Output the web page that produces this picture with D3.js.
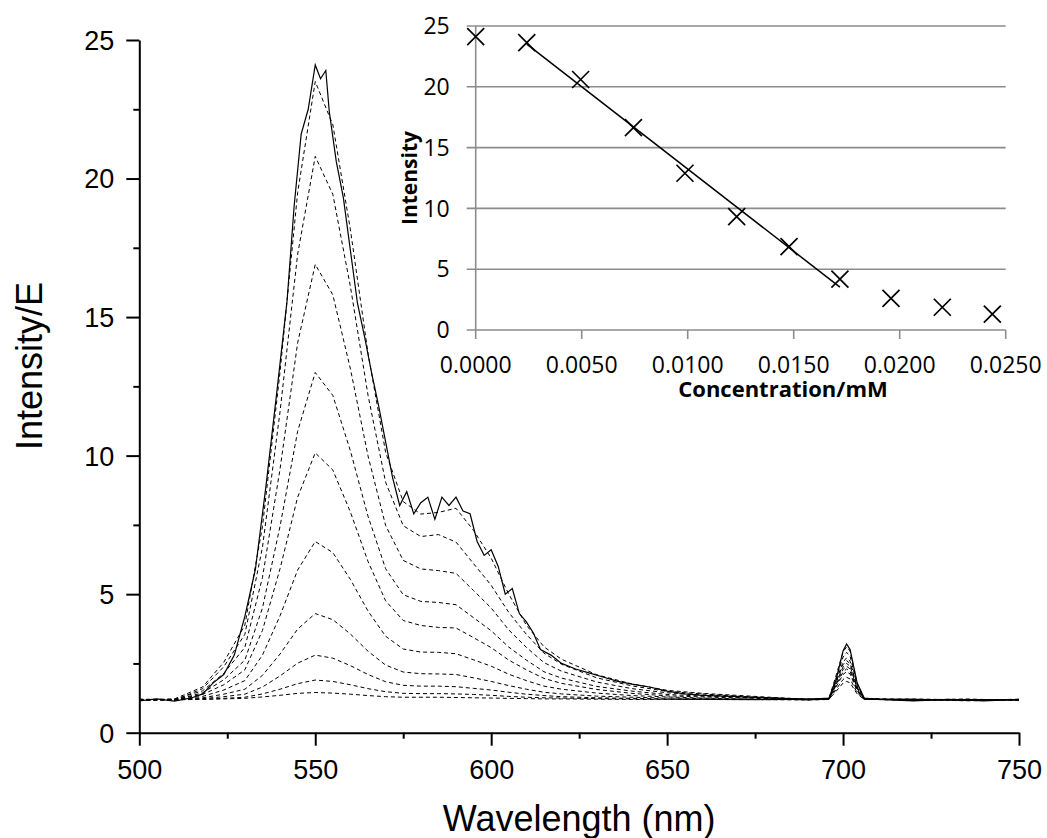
<!DOCTYPE html>
<html>
<head>
<meta charset="utf-8">
<script src="https://cdn.jsdelivr.net/npm/d3@7"></script>
<style>
	body { margin: 0; background: #fff; }
	svg { display: block; }
</style>
</head>
<body>
<svg width="1047" height="838"></svg>
<script>
// wavelength grid for the solid (highest) spectrum
var wlSolid = [500, 505, 510, 515, 518, 521, 524, 527, 530, 533, 536, 539, 542, 544, 546, 548, 550, 551.5, 553, 554,
	556, 558, 560, 562, 564, 566, 568, 570, 572, 574, 576, 578, 580, 582, 584, 586, 588, 590, 592, 594,
	596, 598, 600, 602, 604, 606, 608, 610, 612, 614, 617, 620, 624, 628, 632, 636, 640, 645, 650, 655,
	660, 670, 680, 690, 696, 698, 700, 701, 702, 704, 706, 710, 720, 730, 740, 750];
var solidSpectrum = [1.15, 1.22, 1.14, 1.26, 1.4, 1.8, 2.1, 2.8, 4.2, 5.9, 8.9, 12.2, 15.6, 19.0, 21.6, 22.5, 24.1, 23.6, 23.9, 22.4,
	20.6, 19.3, 17.4, 15.5, 14.3, 13.0, 11.8, 10.5, 9.2, 8.2, 8.7, 7.9, 8.3, 8.5, 7.7, 8.5, 8.2, 8.5, 8.0, 7.9,
	6.9, 6.4, 6.6, 6.0, 5.0, 5.2, 4.3, 4.0, 3.6, 3.0, 2.8, 2.5, 2.3, 2.15, 2.0, 1.85, 1.75, 1.65, 1.5, 1.4,
	1.35, 1.3, 1.25, 1.2, 1.25, 1.9, 2.95, 3.2, 3.0, 1.8, 1.25, 1.2, 1.15, 1.2, 1.15, 1.2];

// wavelength grid for the dashed spectra
var wlDashed = [500, 510, 518, 524, 530, 535, 540, 545, 550, 555, 560, 565, 570, 575, 580, 585, 590, 595, 600, 605,
	610, 615, 620, 630, 640, 650, 660, 675, 690, 696, 698, 700, 701, 702, 704, 706, 720, 735, 750];
var dashed1 = [1.18, 1.22, 1.65, 2.54, 3.88, 7.44, 13.02, 19.49, 23.5, 21.94, 18.15, 13.69, 10.12, 8.34, 7.89, 7.95, 8.1, 7.3, 6.3, 5.0,
	3.88, 3.1, 2.65, 2.09, 1.76, 1.53, 1.42, 1.31, 1.2, 1.24, 2.06, 2.91, 3.1, 2.95, 1.77, 1.24, 1.17, 1.21, 1.16];
var dashed2 = [1.2, 1.17, 1.59, 2.38, 3.55, 6.69, 11.59, 17.27, 20.8, 19.43, 16.1, 12.18, 9.04, 7.47, 7.08, 7.15, 6.88, 6.1, 5.32, 4.34,
	3.55, 2.87, 2.47, 1.98, 1.69, 1.49, 1.4, 1.28, 1.22, 1.22, 1.97, 2.73, 2.9, 2.76, 1.71, 1.23, 1.2, 1.15, 1.19];
var dashed3 = [1.16, 1.21, 1.51, 2.14, 3.08, 5.6, 9.52, 14.07, 16.9, 15.8, 13.13, 9.99, 7.48, 6.22, 5.91, 5.85, 5.75, 5.13, 4.5, 3.71,
	3.08, 2.53, 2.22, 1.83, 1.59, 1.44, 1.36, 1.27, 1.19, 1.23, 1.88, 2.55, 2.7, 2.58, 1.65, 1.21, 1.22, 1.18, 1.2];
var dashed4 = [1.19, 1.18, 1.44, 1.91, 2.62, 4.5, 7.45, 10.88, 13.0, 12.17, 10.17, 7.81, 5.92, 4.98, 4.74, 4.7, 4.62, 4.15, 3.68, 3.09,
	2.62, 2.2, 1.97, 1.67, 1.5, 1.38, 1.32, 1.26, 1.21, 1.2, 1.79, 2.37, 2.5, 2.4, 1.59, 1.22, 1.17, 1.2, 1.18];
var dashed5 = [1.21, 1.2, 1.38, 1.73, 2.27, 3.69, 5.92, 8.5, 10.1, 9.48, 7.96, 6.18, 4.76, 4.05, 3.87, 3.8, 3.78, 3.43, 3.07, 2.62,
	2.27, 1.96, 1.78, 1.56, 1.42, 1.33, 1.29, 1.24, 1.18, 1.22, 1.7, 2.19, 2.3, 2.21, 1.53, 1.2, 1.21, 1.17, 1.21];
var dashed6 = [1.18, 1.2, 1.31, 1.54, 1.88, 2.8, 4.22, 5.87, 6.9, 6.5, 5.53, 4.39, 3.48, 3.02, 2.91, 2.9, 2.85, 2.63, 2.4, 2.11,
	1.88, 1.68, 1.57, 1.43, 1.34, 1.29, 1.25, 1.21, 1.19, 1.2, 1.56, 1.92, 2.0, 1.94, 1.44, 1.21, 1.16, 1.2, 1.17];
var dashed7 = [1.2, 1.19, 1.26, 1.39, 1.57, 2.07, 2.84, 3.74, 4.3, 4.08, 3.56, 2.94, 2.44, 2.19, 2.13, 2.12, 2.1, 1.98, 1.85, 1.7,
	1.57, 1.46, 1.4, 1.32, 1.28, 1.25, 1.23, 1.2, 1.21, 1.21, 1.49, 1.79, 1.85, 1.8, 1.4, 1.2, 1.2, 1.16, 1.2];
var dashed8 = [1.17, 1.2, 1.23, 1.3, 1.39, 1.65, 2.05, 2.51, 2.8, 2.69, 2.42, 2.1, 1.84, 1.71, 1.68, 1.68, 1.66, 1.6, 1.54, 1.46,
	1.39, 1.34, 1.3, 1.26, 1.24, 1.22, 1.21, 1.2, 1.18, 1.2, 1.65, 2.1, 2.2, 2.12, 1.5, 1.21, 1.19, 1.21, 1.18];
var dashed9 = [1.2, 1.18, 1.21, 1.24, 1.28, 1.4, 1.57, 1.77, 1.9, 1.85, 1.73, 1.59, 1.48, 1.42, 1.41, 1.41, 1.4, 1.38, 1.35, 1.31,
	1.28, 1.26, 1.25, 1.23, 1.22, 1.21, 1.2, 1.19, 1.2, 1.22, 1.83, 2.46, 2.6, 2.49, 1.62, 1.22, 1.18, 1.2, 1.19];
var dashed10 = [1.18, 1.2, 1.2, 1.22, 1.24, 1.29, 1.35, 1.42, 1.45, 1.43, 1.39, 1.34, 1.3, 1.28, 1.28, 1.28, 1.27, 1.26, 1.25, 1.24,
	1.23, 1.22, 1.22, 1.21, 1.2, 1.2, 1.2, 1.19, 1.2, 1.21, 1.74, 2.28, 2.4, 2.3, 1.56, 1.2, 1.2, 1.18, 1.2];
var dashedSeries = [dashed1, dashed2, dashed3, dashed4, dashed5, dashed6, dashed7, dashed8, dashed9, dashed10];

var xTicks = [500, 550, 600, 650, 700, 750];
var xMinor = [525, 575, 625, 675, 725];
var yTicks = [0, 5, 10, 15, 20, 25];
var yMinor = [2.5, 7.5, 12.5, 17.5, 22.5];

// inset: peak intensity against concentration
var concentration = [0, 0.00241, 0.00495, 0.00744, 0.00987, 0.01231, 0.01478, 0.01718, 0.01959, 0.02201, 0.02437];
var peakIntensity = [24.12, 23.63, 20.6, 16.64, 12.89, 9.32, 6.85, 4.19, 2.6, 1.87, 1.31];
var fitFirst = 1, fitLast = 7;
var insetXTicks = [0, 0.005, 0.010, 0.015, 0.020, 0.025];
var insetYTicks = [0, 5, 10, 15, 20, 25];

var svg = d3.select('svg');
var mainFont = '"Liberation Sans", Arial, sans-serif';
var insetFont = '"Open Sans", sans-serif';

var x = d3.scaleLinear().domain([500, 750]).range([139.3, 1019]),
	y = d3.scaleLinear().domain([0, 25]).range([732.7, 40]);

function styleAxis(g) {
	g.selectAll('path').attr('stroke', '#000').attr('stroke-width', 2);
	g.selectAll('line').attr('stroke', '#000').attr('stroke-width', 2);
	g.selectAll('text').attr('font-family', mainFont).attr('font-size', 27).attr('fill', '#000');
}

// spectra
var line = d3.line()
	.x(function(d) { return x(d[0]); })
	.y(function(d) { return y(d[1]); });

var plot = svg.append('g');
dashedSeries.forEach(function(vals) {
	plot.append('path')
		.datum(wlDashed.map(function(w, i) { return [w, vals[i]]; }))
		.attr('d', line)
		.attr('fill', 'none')
		.attr('stroke', '#000')
		.attr('stroke-width', 1)
		.attr('stroke-dasharray', '4,3');
});
plot.append('path')
	.datum(wlSolid.map(function(w, i) { return [w, solidSpectrum[i]]; }))
	.attr('d', line)
	.attr('fill', 'none')
	.attr('stroke', '#000')
	.attr('stroke-width', 1.2);

// main axes
var gx = svg.append('g')
	.attr('transform', 'translate(0,' + y(0) + ')')
	.call(d3.axisBottom(x).tickValues(xTicks).tickSize(13).tickSizeOuter(0));
gx.selectAll('text').attr('y', 46).attr('dy', null);
styleAxis(gx);
var gxm = svg.append('g')
	.attr('transform', 'translate(0,' + y(0) + ')')
	.call(d3.axisBottom(x).tickValues(xMinor).tickSize(6).tickFormat(''));
styleAxis(gxm);
gxm.select('path').remove();

var gy = svg.append('g')
	.attr('transform', 'translate(' + x(500) + ',0)')
	.call(d3.axisLeft(y).tickValues(yTicks).tickSize(13).tickSizeOuter(0));
gy.selectAll('text').attr('x', -25).attr('dy', '0.35em');
styleAxis(gy);
var gym = svg.append('g')
	.attr('transform', 'translate(' + x(500) + ',0)')
	.call(d3.axisLeft(y).tickValues(yMinor).tickSize(6).tickFormat(''));
styleAxis(gym);
gym.select('path').remove();

svg.append('text')
	.attr('x', (x(500) + x(750)) / 2)
	.attr('y', 831)
	.attr('text-anchor', 'middle')
	.attr('font-family', mainFont)
	.attr('font-size', 36)
	.text('Wavelength (nm)');

svg.append('text')
	.attr('transform', 'translate(42,366) rotate(-90)')
	.attr('text-anchor', 'middle')
	.attr('font-family', mainFont)
	.attr('font-size', 36)
	.text('Intensity/E');

// inset
var ix = d3.scaleLinear().domain([0, 0.025]).range([475.7, 1005.7]),
	iy = d3.scaleLinear().domain([0, 25]).range([330, 26]);
var inset = svg.append('g');

inset.selectAll('.grid')
	.data(insetYTicks)
	.enter().append('line')
	.attr('class', 'grid')
	.attr('x1', ix(0) - 9)
	.attr('x2', ix(0.025))
	.attr('y1', function(d) { return iy(d); })
	.attr('y2', function(d) { return iy(d); })
	.attr('stroke', '#8c8c8c')
	.attr('stroke-width', 1.6);

inset.append('line')
	.attr('x1', ix(0)).attr('x2', ix(0))
	.attr('y1', iy(25)).attr('y2', iy(0))
	.attr('stroke', '#8c8c8c')
	.attr('stroke-width', 1.6);

inset.selectAll('.xtick')
	.data(insetXTicks)
	.enter().append('line')
	.attr('class', 'xtick')
	.attr('x1', function(d) { return ix(d); })
	.attr('x2', function(d) { return ix(d); })
	.attr('y1', iy(0))
	.attr('y2', iy(0) + 9)
	.attr('stroke', '#8c8c8c')
	.attr('stroke-width', 1.6);

inset.selectAll('.xlabel')
	.data(insetXTicks)
	.enter().append('text')
	.attr('class', 'xlabel')
	.attr('x', function(d) { return ix(d); })
	.attr('y', iy(0) + 43)
	.attr('text-anchor', 'middle')
	.attr('font-family', insetFont)
	.attr('font-size', 23)
	.text(function(d) { return d3.format('.4f')(d); });

inset.selectAll('.ylabel')
	.data(insetYTicks)
	.enter().append('text')
	.attr('class', 'ylabel')
	.attr('x', ix(0) - 26)
	.attr('y', function(d) { return iy(d); })
	.attr('dy', '0.36em')
	.attr('text-anchor', 'end')
	.attr('font-family', insetFont)
	.attr('font-size', 23)
	.text(function(d) { return d; });

inset.append('text')
	.attr('x', 783)
	.attr('y', 397)
	.attr('text-anchor', 'middle')
	.attr('font-family', insetFont)
	.attr('font-weight', 'bold')
	.attr('font-size', 22)
	.text('Concentration/mM');

inset.append('text')
	.attr('transform', 'translate(417,' + (iy(0) + iy(25)) / 2 + ') rotate(-90)')
	.attr('text-anchor', 'middle')
	.attr('font-family', insetFont)
	.attr('font-weight', 'bold')
	.attr('font-size', 21)
	.text('Intensity');

// least squares trend line over the linear part
var fx = concentration.slice(fitFirst, fitLast + 1),
	fy = peakIntensity.slice(fitFirst, fitLast + 1);
var mx = d3.mean(fx), my = d3.mean(fy);
var slope = d3.sum(fx, function(v, i) { return (v - mx) * (fy[i] - my); }) /
	d3.sum(fx, function(v) { return (v - mx) * (v - mx); });
var icpt = my - slope * mx;
inset.append('line')
	.attr('x1', ix(fx[0])).attr('y1', iy(icpt + slope * fx[0]))
	.attr('x2', ix(fx[fx.length - 1])).attr('y2', iy(icpt + slope * fx[fx.length - 1]))
	.attr('stroke', '#000')
	.attr('stroke-width', 1.5);

var m = 8.5;
inset.selectAll('.marker')
	.data(concentration)
	.enter().append('path')
	.attr('class', 'marker')
	.attr('d', function(d, i) {
		var cx = ix(d), cy = iy(peakIntensity[i]);
		return 'M' + (cx - m) + ',' + (cy - m) + 'L' + (cx + m) + ',' + (cy + m) +
			'M' + (cx - m) + ',' + (cy + m) + 'L' + (cx + m) + ',' + (cy - m);
	})
	.attr('stroke', '#000')
	.attr('stroke-width', 1.7)
	.attr('fill', 'none');
</script>
</body>
</html>
